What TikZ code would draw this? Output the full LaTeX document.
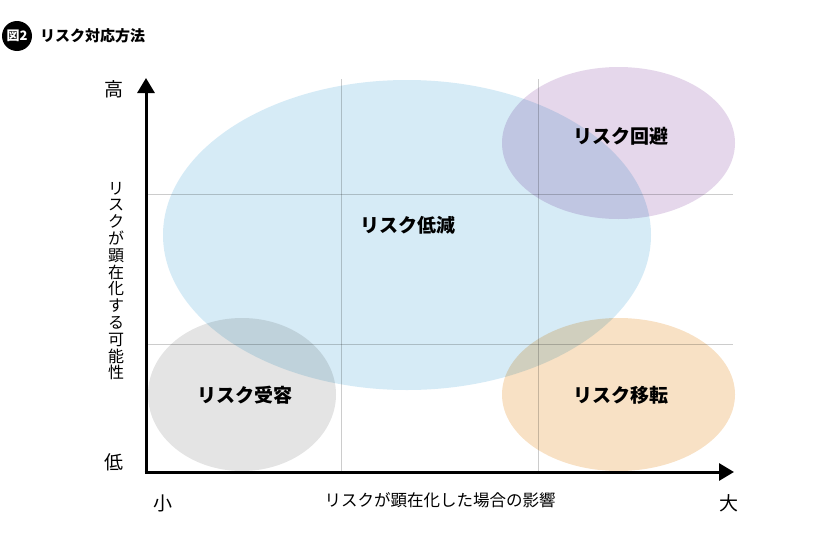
\documentclass[tikz,border=0pt]{standalone}
\usepackage{fontspec}
\newfontfamily\jp{Noto Sans CJK JP}
\usetikzlibrary{arrows.meta}
\definecolor{cblue}{RGB}{214,235,246}
\definecolor{cpurple}{RGB}{229,215,235}
\definecolor{cgray}{RGB}{228,228,228}
\definecolor{corange}{RGB}{248,225,197}
\definecolor{cgrid}{RGB}{204,204,204}
\tikzset{
  gridline/.style={draw=cgrid, line width=1pt},
  axisline/.style={draw=black, line width=3pt, -{Triangle[length=15pt,width=17pt]}},
  zonelabel/.style={font=\jp\bfseries\fontsize{19}{22}\selectfont, inner sep=0pt},
  axislabel/.style={font=\jp\fontsize{16.5}{19}\selectfont, inner sep=0pt},
  endlabel/.style={font=\jp\fontsize{19}{22}\selectfont, inner sep=0pt},
}
\begin{document}
\begin{tikzpicture}[x=1pt,y=-1pt]
\useasboundingbox (0,0) rectangle (840,546);
% coordinates
\coordinate (O) at (146,472);
\coordinate (ytip) at (146,78);
\coordinate (xtip) at (734,472);
\coordinate (gv1t) at (341,79);
\coordinate (gv1b) at (341,472);
\coordinate (gv2t) at (538,79);
\coordinate (gv2b) at (538,472);
\coordinate (gh1l) at (146,194);
\coordinate (gh1r) at (733,194);
\coordinate (gh2l) at (146,344);
\coordinate (gh2r) at (733,344);
% ellipses and grid (multiply blend)
\begin{scope}[blend mode=multiply]
  \fill[cblue] (407,235) ellipse [x radius=244, y radius=155];
  \fill[cpurple] (618.5,143) ellipse [x radius=116.5, y radius=76];
  \fill[cgray] (242,394.5) ellipse [x radius=94, y radius=76.5];
  \fill[corange] (618.5,394.5) ellipse [x radius=116.5, y radius=76.5];
  \draw[gridline] (gv1t) -- (gv1b);
  \draw[gridline] (gv2t) -- (gv2b);
  \draw[gridline] (gh1l) -- (gh1r);
  \draw[gridline] (gh2l) -- (gh2r);
\end{scope}
% axes
\draw[axisline] ([xshift=-1.5pt]O) -- (xtip);
\draw[axisline] ([yshift=1.5pt]O) -- (ytip);
% zone labels
\node[zonelabel] (reduce) at (408,225) {リスク低減};
\node[zonelabel] (avoid) at (621,136) {リスク回避};
\node[zonelabel] (accept) at (245,395) {リスク受容};
\node[zonelabel] (transfer) at (621,395) {リスク移転};
% axis labels
\node[endlabel] (high) at (114,89) {高};
\node[endlabel] (low) at (114,462) {低};
\node[endlabel] (small) at (163,503) {小};
\node[endlabel] (large) at (729,503) {大};
\node[axislabel] (xlab) at (440,500) {リスクが顕在化した場合の影響};
\node[font=\jp\fontsize{16}{16.8}\selectfont, inner sep=0pt, align=center] (ylab) at (116,281)
  {リ\\ス\\ク\\が\\顕\\在\\化\\す\\る\\可\\能\\性};
% title
\node[circle, fill=black, minimum size=30pt, inner sep=0pt, text=white,
      font=\jp\bfseries\fontsize{13}{15}\selectfont] (badge) at (17,36) {図2};
\node[anchor=west, inner sep=0pt, font=\jp\bfseries\fontsize{15}{18}\selectfont] (title) at (40,36) {リスク対応方法};
\end{tikzpicture}
\end{document}
